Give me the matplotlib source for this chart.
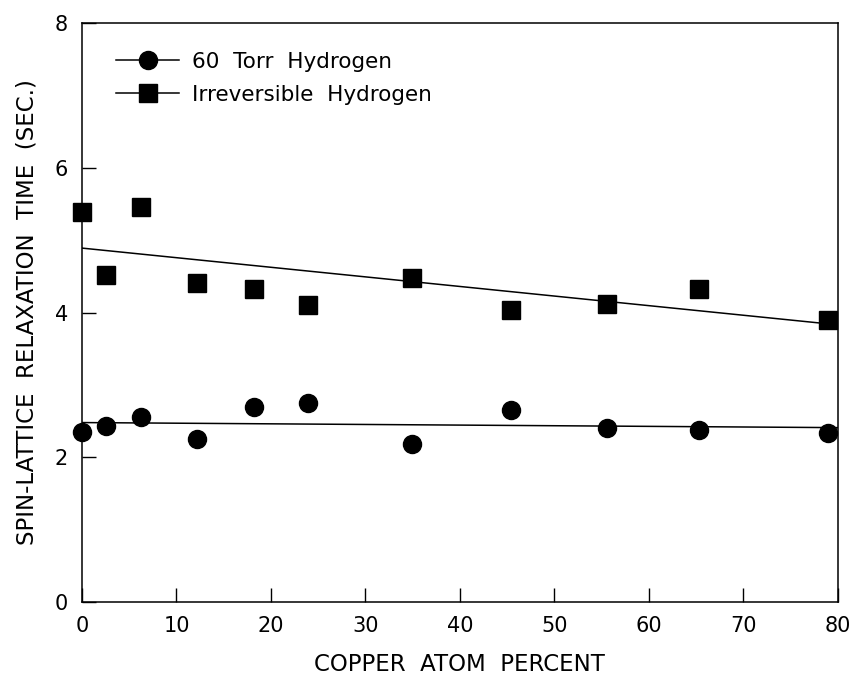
import numpy as np
import matplotlib
matplotlib.use('Agg')
import matplotlib.pyplot as plt

plt.rcParams['font.family'] = ['DejaVu Sans']

# copper atom percent for each sample
cu_pct = [0, 2.5, 6.2, 12.2, 18.2, 23.9, 34.9, 45.4, 55.6, 65.3, 79.0]
t1_60torr = [2.35, 2.43, 2.55, 2.25, 2.69, 2.75, 2.19, 2.66, 2.40, 2.38, 2.33]
t1_irrev = [5.39, 4.52, 5.46, 4.41, 4.32, 4.10, 4.48, 4.04, 4.12, 4.32, 3.89]

# fitted straight lines (end points)
fit_x = [0, 80]
fit_60torr = [2.48, 2.41]
fit_irrev = [4.89, 3.83]

xticks = [0, 10, 20, 30, 40, 50, 60, 70, 80]
yticks = [0, 2, 4, 6, 8]

fig = plt.figure(figsize=(8.54, 6.75), dpi=100)
ax = fig.add_axes([0.096, 0.108, 0.885, 0.858])

ax.plot(fit_x, fit_60torr, color='black', lw=1.1)
ax.plot(fit_x, fit_irrev, color='black', lw=1.1)
ax.plot(cu_pct, t1_60torr, 'o', color='black', ms=13, clip_on=False)
ax.plot(cu_pct, t1_irrev, 's', color='black', ms=12.5, clip_on=False)

# legend handles
ax.plot([], [], '-o', color='black', ms=13, lw=1.1, label='60  Torr  Hydrogen')
ax.plot([], [], '-s', color='black', ms=12.5, lw=1.1, label='Irreversible  Hydrogen')
leg = ax.legend(loc='upper left', frameon=False, fontsize=15.5, handlelength=2.9,
                handletextpad=0.6, labelspacing=0.6, borderaxespad=0,
                bbox_to_anchor=(0.034, 0.965))

ax.set_xlim(0, 80)
ax.set_ylim(0, 8)
ax.set_xticks(xticks)
ax.set_yticks(yticks)
ax.tick_params(direction='in', length=10, width=1, labelsize=15, pad=10)
for s in ax.spines.values():
    s.set_linewidth(1.1)

ax.set_xlabel('COPPER  ATOM  PERCENT', fontsize=16.5, labelpad=12)
ax.set_ylabel('SPIN-LATTICE  RELAXATION  TIME  (SEC.)', fontsize=16.5, labelpad=12)

fig.savefig('out.png', dpi=100)
